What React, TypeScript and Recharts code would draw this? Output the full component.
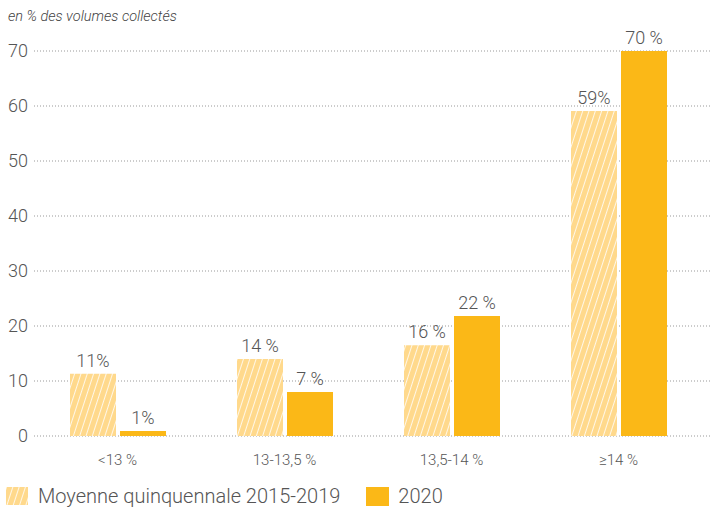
import { BarChart, Bar, XAxis, YAxis, CartesianGrid, LabelList, Legend } from 'recharts'

const FONT = "Roboto, 'Open Sans', sans-serif"
const TEXT = '#555'
const SOLID = '#FBB817'
const HATCH_BG = '#FFD98C'

const categories = ['<13 %', '13-13,5 %', '13,5-14 %', '≥14 %']
const moyenneValues = [11.3, 14, 16.5, 59.1]
const moyenneLabels = ['11%', '14 %', '16 %', '59%']
const values2020 = [0.9, 8, 21.8, 70]
const labels2020 = ['1%', '7 %', '22 %', '70 %']
const yTicks = [0, 10, 20, 30, 40, 50, 60, 70]

const data = categories.map((name, i) => ({
  name,
  moyenne: moyenneValues[i],
  y2020: values2020[i],
  moyenneLabel: moyenneLabels[i],
  label2020: labels2020[i],
}))

function HatchDefs({ id }: { id: string }) {
  return (
    <defs>
      <pattern id={id} patternUnits="userSpaceOnUse" width="6" height="6" patternTransform="rotate(18)">
        <rect width="6" height="6" fill={HATCH_BG} />
        <line x1="0" y1="0" x2="0" y2="6" stroke="#fff" strokeWidth="1.6" />
      </pattern>
    </defs>
  )
}

function LegendContent() {
  return (
    <div style={{ display: 'flex', alignItems: 'center', fontFamily: FONT, fontWeight: 300, fontSize: 20, color: TEXT }}>
      <svg width={22} height={18} style={{ marginLeft: 6, marginRight: 10 }}>
        <HatchDefs id="hatchLegend" />
        <rect width={22} height={18} fill="url(#hatchLegend)" />
      </svg>
      <span>Moyenne quinquennale 2015-2019</span>
      <svg width={23} height={19} style={{ marginLeft: 26, marginRight: 9 }}>
        <rect width={23} height={19} fill={SOLID} />
      </svg>
      <span>2020</span>
    </div>
  )
}

export default function App() {
  return (
    <div style={{ position: 'absolute', left: 0, top: 0, width: 710, height: 516, background: '#fff' }}>
      <div
        style={{
          position: 'absolute',
          left: 8,
          top: 8,
          fontFamily: FONT,
          fontStyle: 'italic',
          fontWeight: 300,
          fontSize: 14.5,
          color: '#444',
        }}
      >
        en % des volumes collectés
      </div>
      <BarChart
        width={710}
        height={516}
        data={data}
        margin={{ top: 51, right: 0, bottom: 18, left: 0 }}
        barGap={4}
        barSize={46}
      >
        <HatchDefs id="hatchBar" />
        <CartesianGrid vertical={false} stroke="#999" strokeDasharray="1 2" />
        <XAxis
          dataKey="name"
          axisLine={false}
          tickLine={false}
          height={30}
          padding={{ left: 0, right: 8 }}
          tick={{ fill: TEXT, fontSize: 15, fontFamily: FONT, fontWeight: 300 }}
          tickMargin={12}
        />
        <YAxis
          domain={[0, 70]}
          ticks={yTicks}
          width={34}
          axisLine={false}
          tickLine={false}
          tickSize={0}
          tickMargin={6}
          tick={{ fill: TEXT, fontSize: 18, fontFamily: FONT, fontWeight: 300 }}
        />
        <Legend
          verticalAlign="bottom"
          height={32}
          content={<LegendContent />}
          wrapperStyle={{ top: 484, left: 0, width: 710 }}
        />
        <Bar dataKey="moyenne" fill="url(#hatchBar)" isAnimationActive={false}>
          <LabelList
            dataKey="moyenneLabel"
            position="top"
            offset={7}
            style={{ fill: TEXT, fontSize: 18, fontFamily: FONT, fontWeight: 300 }}
          />
        </Bar>
        <Bar dataKey="y2020" fill={SOLID} isAnimationActive={false}>
          <LabelList
            dataKey="label2020"
            position="top"
            offset={7}
            style={{ fill: TEXT, fontSize: 18, fontFamily: FONT, fontWeight: 300 }}
          />
        </Bar>
      </BarChart>
    </div>
  )
}
